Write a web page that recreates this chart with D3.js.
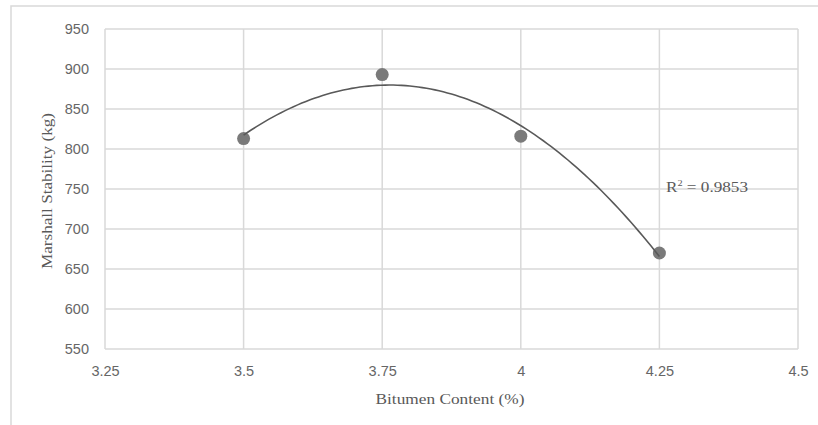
<!DOCTYPE html>
<html><head><meta charset="utf-8">
<script src="https://cdn.jsdelivr.net/npm/d3@7"></script>
<style>body{margin:0;background:#fff}svg{display:block}</style>
</head><body><svg id="c" width="818" height="425"></svg>
<script>
const bitumen = [3.5, 3.75, 4, 4.25];
const stability = [813, 893, 816, 670];
const xTicks = [3.25, 3.5, 3.75, 4, 4.25, 4.5];
const yTicks = [550, 600, 650, 700, 750, 800, 850, 900, 950];
const r2Label = "0.9853";

const svg = d3.select("#c");
const x = d3.scaleLinear().domain([3.25, 4.5]).range([105, 798]);
const y = d3.scaleLinear().domain([550, 950]).range([349, 29]);

// outer chart border
svg.append("rect").attr("x", 11).attr("y", 6).attr("width", 830).attr("height", 440)
  .attr("fill", "none").attr("stroke", "#d9d9d9").attr("stroke-width", 1.5);

// grid
const grid = svg.append("g").attr("stroke", "#d9d9d9").attr("stroke-width", 1.5);
grid.selectAll(".h").data(yTicks).join("line")
  .attr("x1", x(3.25)).attr("x2", x(4.5)).attr("y1", d => y(d)).attr("y2", d => y(d));
grid.selectAll(".v").data(xTicks).join("line")
  .attr("y1", y(550)).attr("y2", y(950)).attr("x1", d => x(d)).attr("x2", d => x(d));

const sans = "'Liberation Sans', Arial, sans-serif";
const serif = "'Liberation Serif', 'Times New Roman', serif";

// axes labels
const yAxis = d3.axisLeft(y).tickValues(yTicks).tickSize(0).tickPadding(16).tickFormat(d3.format("d"));
const gy = svg.append("g").attr("transform", `translate(${x(3.25)},0)`).call(yAxis);
gy.select(".domain").remove();
gy.selectAll("text").attr("fill", "#666").attr("font-family", sans).attr("font-size", 14.5);

const xAxis = d3.axisBottom(x).tickValues(xTicks).tickSize(0).tickPadding(17).tickFormat(d => String(d));
const gx = svg.append("g").attr("transform", `translate(0,${y(550)})`).call(xAxis);
gx.select(".domain").remove();
gx.selectAll("text").attr("fill", "#666").attr("font-family", sans).attr("font-size", 14.5);

// polynomial (order 2) trendline via least squares
function polyfit2(xs, ys) {
  let S = [0,0,0,0,0], T = [0,0,0];
  xs.forEach((xv, i) => {
    for (let k = 0; k < 5; k++) S[k] += Math.pow(xv, k);
    for (let k = 0; k < 3; k++) T[k] += ys[i] * Math.pow(xv, k);
  });
  const A = [[S[0],S[1],S[2],T[0]],[S[1],S[2],S[3],T[1]],[S[2],S[3],S[4],T[2]]];
  for (let i = 0; i < 3; i++) {
    for (let j = i + 1; j < 3; j++) {
      const f = A[j][i] / A[i][i];
      for (let k = i; k < 4; k++) A[j][k] -= f * A[i][k];
    }
  }
  const c = [0,0,0];
  for (let i = 2; i >= 0; i--) {
    let s = A[i][3];
    for (let k = i + 1; k < 3; k++) s -= A[i][k] * c[k];
    c[i] = s / A[i][i];
  }
  return c;
}
const coef = polyfit2(bitumen, stability);
const xs = d3.range(0, 101).map(i => bitumen[0] + (bitumen[bitumen.length-1] - bitumen[0]) * i / 100);
const line = d3.line().x(d => x(d)).y(d => y(coef[0] + coef[1]*d + coef[2]*d*d));

svg.selectAll(".pt").data(bitumen).join("circle")
  .attr("cx", d => x(d)).attr("cy", (d, i) => y(stability[i])).attr("r", 6.5)
  .attr("fill", "#7a7a7a");

svg.append("path").attr("d", line(xs)).attr("fill", "none")
  .attr("stroke", "#595959").attr("stroke-width", 1.6);

// R² label
const r2 = svg.append("text").attr("x", 666).attr("y", 192)
  .attr("font-family", serif).attr("font-size", 15).attr("fill", "#595959")
  .attr("textLength", 82).attr("lengthAdjust", "spacingAndGlyphs");
r2.append("tspan").text("R");
r2.append("tspan").attr("dy", -6).attr("font-size", 9).text("2");
r2.append("tspan").attr("dy", 6).text(" = " + r2Label);

// axis titles
svg.append("text").attr("x", 450).attr("y", 404).attr("text-anchor", "middle")
  .attr("font-family", serif).attr("font-size", 15).attr("fill", "#595959")
  .attr("textLength", 149).attr("lengthAdjust", "spacingAndGlyphs")
  .text("Bitumen Content (%)");
svg.append("text").attr("transform", "translate(52,191) rotate(-90)").attr("text-anchor", "middle")
  .attr("font-family", serif).attr("font-size", 15).attr("fill", "#595959")
  .attr("textLength", 156).attr("lengthAdjust", "spacingAndGlyphs")
  .text("Marshall Stability (kg)");
</script></body></html>
